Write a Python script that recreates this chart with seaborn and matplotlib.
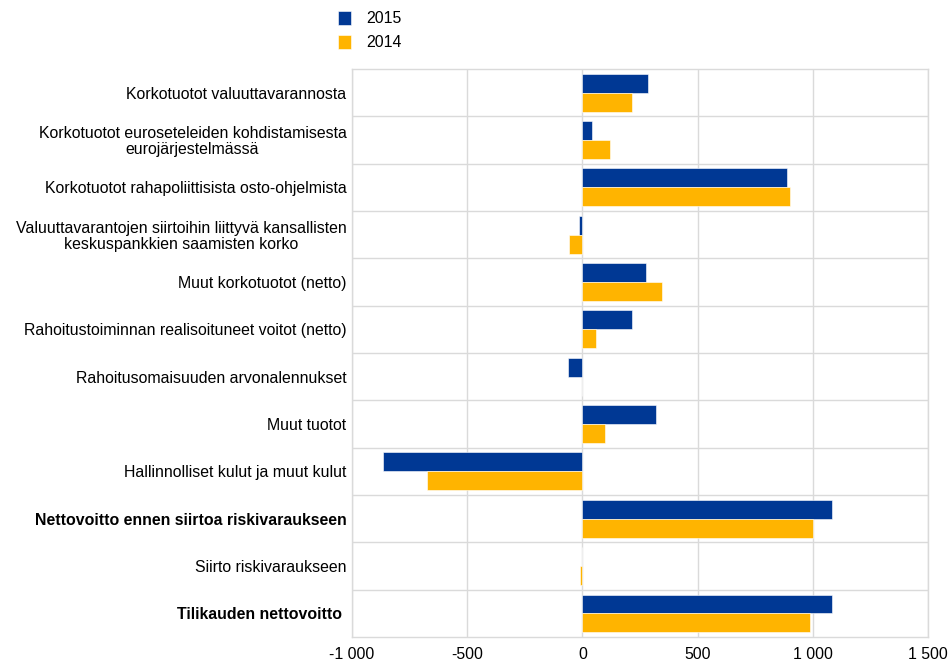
#!/usr/bin/env python3
"""
ECB income statement items, 2015 vs 2014 (EUR million), horizontal bars
"""
import pandas as pd
import matplotlib.pyplot as plt
import matplotlib.ticker as mticker
import seaborn as sns

# Data
categories = [
    "Korkotuotot valuuttavarannosta",
    "Korkotuotot euroseteleiden kohdistamisesta\neurojärjestelmässä",
    "Korkotuotot rahapoliittisista osto-ohjelmista",
    "Valuuttavarantojen siirtoihin liittyvä kansallisten\nkeskuspankkien saamisten korko",
    "Muut korkotuotot (netto)",
    "Rahoitustoiminnan realisoituneet voitot (netto)",
    "Rahoitusomaisuuden arvonalennukset",
    "Muut tuotot",
    "Hallinnolliset kulut ja muut kulut",
    "Nettovoitto ennen siirtoa riskivaraukseen",
    "Siirto riskivaraukseen",
    "Tilikauden nettovoitto ",
]
bold_labels = [
    "Nettovoitto ennen siirtoa riskivaraukseen",
    "Tilikauden nettovoitto ",
]
values_2015 = [283, 40, 888, -16, 276, 214, -64, 318, -864, 1082, 0, 1081]
values_2014 = [217, 121, 900, -57, 345, 57, -4, 96, -676, 1001, -13, 989]
series_names = ["2015", "2014"]
x_ticks = [-1000, -500, 0, 500, 1000, 1500]

BLUE = "#003894"
YELLOW = "#FFB400"
GRID = "#DADADA"
FS = 11.4

df = pd.DataFrame({
    "category": categories * 2,
    "value": values_2015 + values_2014,
    "year": [series_names[0]] * len(categories) + [series_names[1]] * len(categories),
})

sns.set_style("white")
plt.rcParams["font.family"] = ["Liberation Sans", "DejaVu Sans"]
plt.rcParams["text.color"] = "black"
plt.rcParams["xtick.color"] = "black"
plt.rcParams["ytick.color"] = "black"

fig = plt.figure(figsize=(9.49, 6.63), dpi=100)
ax = fig.add_axes([0.371, 0.039, 0.607, 0.857])

sns.barplot(
    data=df, y="category", x="value", hue="year", orient="h",
    order=categories, hue_order=series_names,
    palette=[BLUE, YELLOW], width=0.8, saturation=1,
    edgecolor="white", linewidth=0.4, ax=ax, legend=True,
)

ax.set_xlim(-1000, 1500)
ax.set_ylim(len(categories) - 0.5, -0.5)
ax.xaxis.set_major_locator(mticker.FixedLocator(x_ticks))
ax.xaxis.set_major_formatter(
    mticker.FuncFormatter(lambda v, _: f"{int(v):,}".replace(",", " ")))

# grid: vertical at ticks, horizontal between categories
ax.set_yticks([i + 0.5 for i in range(len(categories) - 1)], minor=True)
ax.grid(axis="x", which="major", color=GRID, linewidth=1)
ax.grid(axis="y", which="minor", color=GRID, linewidth=1)
ax.set_axisbelow(True)
for side in ["top", "left", "bottom", "right"]:
    ax.spines[side].set_visible(True)
    ax.spines[side].set_color(GRID)
    ax.spines[side].set_linewidth(1)

ax.tick_params(axis="both", which="both", length=0)
ax.tick_params(axis="x", labelsize=FS, pad=7)
ax.tick_params(axis="y", labelsize=FS, pad=4)
ax.set_xlabel("")
ax.set_ylabel("")

for lbl in ax.get_yticklabels():
    lbl.set_multialignment("center")
    lbl.set_linespacing(1.05)
    if lbl.get_text() in bold_labels:
        lbl.set_fontweight("bold")

# legend above the plot
handles, labels = ax.get_legend_handles_labels()
ax.get_legend().remove()
fig.legend(
    handles, labels, loc="upper left", bbox_to_anchor=(0.3495, 0.9935),
    frameon=False, fontsize=FS, handlelength=0.85, handleheight=1.0,
    handletextpad=0.95, labelspacing=0.55, borderaxespad=0.0,
)

fig.savefig("out.png", dpi=100)
